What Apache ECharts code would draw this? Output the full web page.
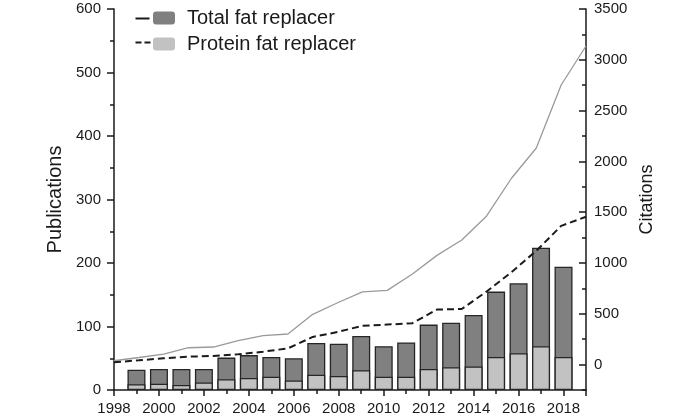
<!DOCTYPE html>
<html><head><meta charset="utf-8">
<script src="https://cdn.jsdelivr.net/npm/echarts@6/dist/echarts.min.js"></script>
<style>html,body{margin:0;padding:0;background:#fff}#c{width:688px;height:418px}</style>
</head><body><div id="c"></div>
<script>
const barYears = [1999,2000,2001,2002,2003,2004,2005,2006,2007,2008,2009,2010,2011,2012,2013,2014,2015,2016,2017,2018];
const totalPubs = [32,33,33,33,51,55,52,50,74,73,85,69,75,103,106,118,155,168,224,194];
const proteinPubs = [9,10,8,12,17,19,21,15,24,22,31,21,21,33,36,37,52,58,69,52];
const totalCites = [38,70,104,166,173,235,285,301,495,609,715,731,889,1075,1226,1463,1834,2132,2752,3136];
const proteinCites = [23,42,62,78,85,101,127,160,272,321,382,394,406,542,547,720,910,1120,1365,1455];
const citeLabelTicks = [0,500,1000,1500,2000,2500,3000,3500];

const FONT = 'Liberation Sans, Arial, sans-serif';
const INK = '#1a1a1a';
const chart = echarts.init(document.getElementById('c'), null, {renderer:'canvas'});
chart.setOption({
  animation:false,
  backgroundColor:'#fff',
  textStyle:{fontFamily:FONT},
  grid:{left:114,right:102,top:9,bottom:28,containLabel:false},
  legend:{
    data:['Total fat replacer','Protein fat replacer'],
    orient:'vertical', left:153, top:8, padding:0,
    itemWidth:22, itemHeight:13, itemGap:6,
    itemStyle:{borderWidth:0},
    textStyle:{fontSize:20, color:INK, fontFamily:FONT, lineHeight:20, padding:[0,0,0,7]}
  },
  graphic:[
    {type:'line', left:133, top:16, shape:{x1:0,y1:0,x2:14,y2:0}, style:{stroke:INK, lineWidth:2}},
    {type:'line', left:133, top:40, shape:{x1:0,y1:0,x2:15,y2:0}, style:{stroke:INK, lineWidth:2, lineDash:[6,3]}}
  ],
  xAxis:[{
    type:'value', min:1998, max:2019, interval:2, position:'bottom',
    axisLine:{show:true, lineStyle:{color:INK, width:1.5}},
    axisTick:{show:true, length:6, lineStyle:{color:INK, width:1.5}},
    minorTick:{show:true, splitNumber:2, length:4, lineStyle:{color:INK, width:1.5}},
    axisLabel:{fontSize:15, color:INK, margin:11, showMaxLabel:false, fontFamily:FONT,
      formatter:function(v){return String(v);}},
    splitLine:{show:false}, minorSplitLine:{show:false}
  },{
    type:'value', min:0, max:19, show:false
  }],
  yAxis:[{
    type:'value', min:0, max:600, interval:100, position:'left',
    name:'Publications', nameLocation:'middle', nameGap:37, nameRotate:90,
    nameTextStyle:{fontSize:20, color:INK, fontFamily:FONT},
    axisLine:{show:true, lineStyle:{color:INK, width:1.5}},
    axisTick:{show:true, length:7, lineStyle:{color:INK, width:1.5}},
    minorTick:{show:true, splitNumber:2, length:4, lineStyle:{color:INK, width:1.5}},
    axisLabel:{fontSize:15, color:INK, margin:13, fontFamily:FONT},
    splitLine:{show:false}
  },{
    type:'value', min:-250, max:3500, interval:250, position:'right',
    name:'Citations', nameLocation:'middle', nameGap:52, nameRotate:90,
    nameTextStyle:{fontSize:18, color:INK, fontFamily:FONT},
    axisLine:{show:true, lineStyle:{color:INK, width:1.5}},
    axisTick:{show:true, inside:true, length:4, lineStyle:{color:INK, width:1.5}},
    axisLabel:{fontSize:15, color:INK, margin:8, fontFamily:FONT,
      formatter:function(v){return (v>=0 && v%500===0)? String(v) : '';}},
    splitLine:{show:false}
  },{
    type:'value', min:-250, max:3500, position:'right',
    axisLine:{show:false},
    axisTick:{show:true, inside:true, length:7, customValues:citeLabelTicks, lineStyle:{color:INK, width:1.5}},
    axisLabel:{show:false},
    splitLine:{show:false}
  }],
  series:[{
    name:'Total fat replacer', type:'bar', xAxisIndex:0, yAxisIndex:0,
    data:barYears.map((y,i)=>[y,totalPubs[i]]),
    barWidth:18, barGap:'-100%',
    itemStyle:{color:'#808080', borderColor:'#262626', borderWidth:1.3}, z:2
  },{
    name:'Protein fat replacer', type:'bar', xAxisIndex:0, yAxisIndex:0,
    data:barYears.map((y,i)=>[y,proteinPubs[i]]),
    barWidth:18, barGap:'-100%',
    itemStyle:{color:'#c2c2c2', borderColor:'#262626', borderWidth:1.3}, z:3
  },{
    name:'Total citations', type:'line', xAxisIndex:1, yAxisIndex:1,
    data:totalCites.map((v,i)=>[i,v]), symbol:'none',
    lineStyle:{color:'#9a9a9a', width:1.3}, z:4
  },{
    name:'Protein citations', type:'line', xAxisIndex:1, yAxisIndex:1,
    data:proteinCites.map((v,i)=>[i,v]), symbol:'none',
    lineStyle:{color:'#1a1a1a', width:2, type:[7,4]}, z:5
  }]
});
</script></body></html>
